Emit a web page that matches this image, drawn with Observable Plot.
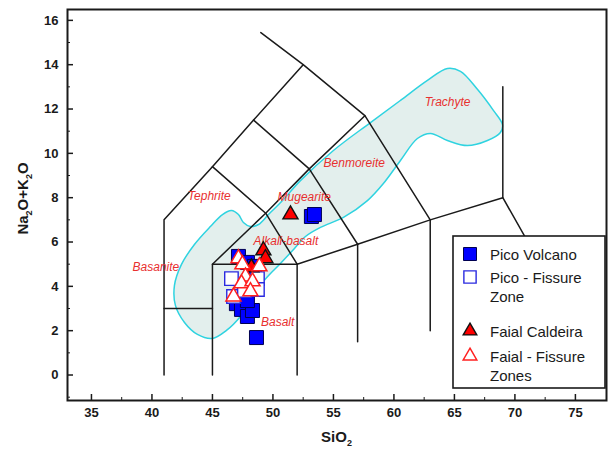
<!DOCTYPE html>
<html><head><meta charset="utf-8">
<script src="https://cdn.jsdelivr.net/npm/d3@7"></script>
<script src="https://cdn.jsdelivr.net/npm/@observablehq/plot@0.6"></script>
<style>
body{margin:0;background:#fff;}
#chart{position:relative;width:608px;height:449px;}
</style></head><body><div id="chart"></div>
<script>
// ---- tick values ----
const xTicks = [35, 40, 45, 50, 55, 60, 65, 70, 75];
const xMinor = [37.5, 42.5, 47.5, 52.5, 57.5, 62.5, 67.5, 72.5];
const yTicks = [0, 2, 4, 6, 8, 10, 12, 14, 16];
const yMinor = [-1, 1, 3, 5, 7, 9, 11, 13, 15];

// ---- samples ----
const picoVolcanoSiO2 = [48.64, 46.98, 47.40, 47.89, 48.31, 47.89, 47.15, 47.89, 48.47, 53.18, 53.43];
const picoVolcanoAlk  = [1.69, 3.22, 2.96, 2.64, 2.91, 3.36, 5.35, 5.08, 4.90, 7.15, 7.24];
const picoFissureSiO2 = [46.57, 48.72, 46.74, 48.72, 47.64];
const picoFissureAlk  = [4.35, 4.35, 3.54, 3.86, 3.81];
const faialCalderaSiO2 = [51.45, 49.21, 49.38, 48.22];
const faialCalderaAlk  = [7.24, 5.62, 5.26, 4.85];
const faialFissureSiO2 = [47.15, 47.48, 48.88, 47.73, 47.40, 48.31, 48.14, 46.74];
const faialFissureAlk  = [5.26, 4.99, 4.90, 4.44, 4.13, 4.22, 3.77, 3.54];

const seriesNames = ["Pico Volcano", "Pico - Fissure\nZone", "Faial Caldeira", "Faial - Fissure\nZones"];

// ---- TAS field boundaries ----
const tasLines = [
  [[41,0],[41,7],[45,9.4],[48.4,11.5],[52.5,14]],
  [[49,15.45],[52.5,14],[57.6,11.7],[63,7],[63,2]],
  [[41,3],[45,3]],
  [[45,0],[45,5],[52,5],[57,5.9],[63,7],[69,8],[77.3,0]],
  [[52,0],[52,5]],
  [[57,1.5],[57,5.9]],
  [[45,5],[49.4,7.3],[53,9.3],[57.6,11.7]],
  [[45,9.4],[49.4,7.3],[52,5]],
  [[48.4,11.5],[53,9.3],[57,5.9]],
  [[69,8],[69,13]]
];

// ---- field names ----
const fieldNames = ["Trachyte", "Benmoreite", "Tephrite", "Mugearite", "Alkali-basalt", "Basanite", "Basalt"];
const fieldX = [64.44, 56.72, 44.74, 52.59, 51.07, 40.33, 50.39];
const fieldY = [12.32, 9.54, 8.05, 8.01, 6.06, 4.86, 2.38];

// ---- envelope of Azores lavas ----
const envX = [46.57,47.15,47.56,48.14,48.80,49.63,50.87,52.27,55.0,58.06,60.54,62.77,64.42,65.50,66.90,68.22,68.97,68.80,67.73,66.07,64.42,63.02,61.94,60.54,59.13,57.81,55.83,53.93,52.69,51.78,50.62,49.21,47.31,46.16,45.0,43.76,42.69,41.94,41.86,42.44,43.51,44.83,45.83];
const envY = [7.42,7.24,6.88,6.70,6.79,7.24,7.92,8.77,10.13,11.39,12.39,13.29,13.83,13.70,12.89,11.94,11.30,10.94,10.58,10.35,10.58,10.90,10.67,9.68,8.64,7.87,7.11,6.66,6.25,5.71,5.03,4.22,2.64,2.01,1.65,1.83,2.37,3.14,4.04,4.99,5.89,6.70,7.24];

// ---- build tables ----
const pts = (xs, ys) => xs.map((x, i) => ({x, y: ys[i]}));
const envelope = pts(envX, envY);
const lineRows = tasLines.flatMap((seg, k) => seg.map(([x, y]) => ({x, y, k})));
const fields = fieldNames.map((name, i) => ({name, x: fieldX[i], y: fieldY[i]}));

const W = 608, H = 449, mL = 67, mR = 2, mT = 9, mB = 49;
const frameW = W - mL - mR, frameH = H - mT - mB;
const font = "Arial, 'Liberation Sans', Helvetica, sans-serif";
const ink = "#1a1a1a";
const red = "#e8302f";

const svg = Plot.plot({
  width: W, height: H,
  marginLeft: mL, marginRight: mR, marginTop: mT, marginBottom: mB,
  style: {fontFamily: font, background: "#fff"},
  x: {domain: [33.02, 77.57]},
  y: {domain: [-1.15, 16.49]},
  marks: [
    Plot.line(envelope, {x: "x", y: "y", curve: "catmull-rom-closed", fill: "#e3efed", stroke: "#2fd3e0", strokeWidth: 1.5}),
    Plot.line(lineRows, {x: "x", y: "y", z: "k", stroke: ink, strokeWidth: 1.5, clip: true}),
    Plot.text(fields, {x: "x", y: "y", text: "name", fill: red, fontSize: 12, fontStyle: "italic", fontFamily: font}),
    Plot.dot(pts(picoVolcanoSiO2, picoVolcanoAlk), {x: "x", y: "y", symbol: "square", r: 7.9, fill: "#0000ff", stroke: "#000050", strokeWidth: 1}),
    Plot.dot(pts(picoFissureSiO2, picoFissureAlk), {x: "x", y: "y", symbol: "square", r: 7.6, fill: "#fff", stroke: "#2a2ae0", strokeWidth: 1.4}),
    Plot.dot(pts(faialCalderaSiO2, faialCalderaAlk), {x: "x", y: "y", symbol: "triangle", r: 5.6, fill: "#ff0000", stroke: "#111", strokeWidth: 1.4}),
    Plot.dot(pts(faialFissureSiO2, faialFissureAlk), {x: "x", y: "y", symbol: "triangle", r: 5.6, fill: "#fff", stroke: "#ff2020", strokeWidth: 1.5}),
    Plot.ruleX(xTicks, {x: d => d, insetTop: frameH - 6, stroke: ink, strokeWidth: 1.5}),
    Plot.ruleX(xMinor, {x: d => d, insetTop: frameH - 3, stroke: ink, strokeWidth: 1}),
    Plot.ruleY(yTicks, {y: d => d, insetRight: frameW - 6, stroke: ink, strokeWidth: 1.5}),
    Plot.ruleY(yMinor, {y: d => d, insetRight: frameW - 3, stroke: ink, strokeWidth: 1}),
    Plot.axisX(xTicks, {tickSize: 0, tickPadding: 7, fontSize: 13, fill: ink, label: null}),
    Plot.axisY(yTicks, {tickSize: 0, tickPadding: 9, fontSize: 13, fill: ink, label: null}),
    Plot.frame({stroke: ink, strokeWidth: 2})
  ]
});

const root = d3.select(svg);
// bold tick labels
root.selectAll("g[aria-label='x-axis tick label'], g[aria-label='y-axis tick label']")
  .attr("font-weight", "bold").attr("font-size", 13);

// axis titles with subscripts
const tx = root.append("text")
  .attr("x", mL + frameW / 2).attr("y", 442)
  .attr("text-anchor", "middle")
  .attr("font-family", font).attr("font-size", 15).attr("font-weight", "bold").attr("fill", ink);
tx.append("tspan").text("SiO");
tx.append("tspan").attr("font-size", 9).attr("dy", 4).text("2");

const ty = root.append("text")
  .attr("transform", `translate(28,${mT + frameH / 2 - 6}) rotate(-90)`)
  .attr("text-anchor", "middle")
  .attr("font-family", font).attr("font-size", 15).attr("font-weight", "bold").attr("fill", ink);
ty.append("tspan").text("Na");
ty.append("tspan").attr("font-size", 9).attr("dy", 4).text("2");
ty.append("tspan").attr("dy", -4).text("O+K");
ty.append("tspan").attr("font-size", 9).attr("dy", 4).text("2");
ty.append("tspan").attr("dy", -4).text("O");

// legend
const lg = root.append("g").attr("transform", "translate(453,236)");
lg.append("rect").attr("width", 152).attr("height", 152).attr("fill", "#fff").attr("stroke", ink).attr("stroke-width", 1.6);
const legendStyles = [
  {type: d3.symbolSquare, size: 169, fill: "#0000ff", stroke: "#000050", sw: 1},
  {type: d3.symbolSquare, size: 150, fill: "#fff", stroke: "#2a2ae0", sw: 1.4},
  {type: d3.symbolTriangle, size: 80, fill: "#ff0000", stroke: "#111", sw: 1.4},
  {type: d3.symbolTriangle, size: 80, fill: "#fff", stroke: "#ff2020", sw: 1.5}
];
const legendRows = [18, 41, 95, 120];
seriesNames.forEach((name, i) => {
  const s = legendStyles[i];
  lg.append("path").attr("d", d3.symbol(s.type, s.size)())
    .attr("transform", `translate(17,${legendRows[i]})`)
    .attr("fill", s.fill).attr("stroke", s.stroke).attr("stroke-width", s.sw);
  name.split("\n").forEach((line, j) => {
    lg.append("text").attr("x", 37).attr("y", legendRows[i] + 5.5 + j * 19)
      .attr("text-anchor", "start")
      .attr("font-family", font).attr("font-size", 15).attr("fill", ink).text(line);
  });
});

document.getElementById("chart").appendChild(svg);
</script></body></html>
